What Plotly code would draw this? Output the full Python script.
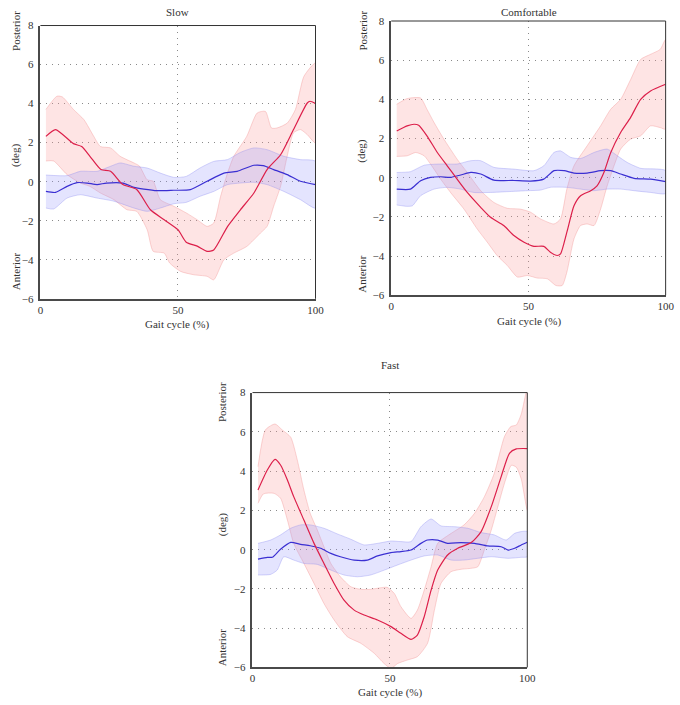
import plotly.graph_objects as go

# ---------------- DATA ----------------
panel_titles = ["Slow", "Comfortable", "Fast"]
x_ticks = [0, 50, 100]
y_ticks = [-6, -4, -2, 0, 2, 4, 6, 8]

# Slow
slow_red_mean_x = [2, 5.5, 12, 15, 18, 22, 25.5, 30, 35, 40, 45, 50, 53, 57, 60.6, 63, 68, 72.7, 77.6, 82.4, 87.3, 92, 97, 98, 100]
slow_red_mean_y = [2.32, 2.67, 1.95, 1.8, 1.3, 0.62, 0.53, -0.15, -0.4, -1.44, -1.95, -2.46, -3.1, -3.3, -3.57, -3.5, -2.3, -1.44, -0.58, 0.62, 1.38, 2.67, 4.03, 4.12, 4.0]
slow_red_up_x = [2, 6, 8, 12, 15.8, 19.4, 21.8, 25.5, 29, 34, 36, 38.8, 41, 43.6, 48.5, 53, 57, 60.6, 63, 65.5, 68, 70.3, 75, 78.8, 81.8, 84, 86, 89.7, 92.7, 95.8, 100]
slow_red_up_y = [3.7, 4.38, 4.34, 3.7, 3.18, 2.32, 1.8, 1.73, 1.3, 0.96, 0.8, 0.1, 0.02, -0.92, -1.26, -1.6, -1.95, -2.29, -2.12, -0.75, 0.44, 1.3, 2.32, 3.52, 3.6, 2.75, 2.75, 3.0, 3.7, 5.4, 6.08]
slow_red_lo_x = [2, 4.8, 9.7, 14.5, 18, 21.8, 26.7, 31.5, 35, 38.8, 41, 45, 47, 51, 55.8, 60.6, 63, 66.7, 70.3, 75, 80, 82.4, 84.8, 87.3, 89.7, 92, 94.5, 97, 100]
slow_red_lo_y = [1.06, 1.06, 0.36, -0.07, -0.24, -0.58, -0.92, -1.44, -1.52, -2.46, -3.57, -3.66, -4.17, -4.6, -4.77, -4.85, -5.03, -4.0, -3.66, -3.32, -2.63, -2.29, -1.26, -0.24, 1.3, 2.5, 2.67, 2.41, 1.98]
slow_blue_mean_x = [2, 5.5, 9.7, 13.3, 17, 20.6, 24, 30, 34, 37.6, 42.4, 48.5, 54.5, 60.6, 66.7, 71.5, 77.6, 81, 84.8, 89.7, 94.5, 100]
slow_blue_mean_y = [-0.5, -0.55, -0.24, -0.05, -0.07, -0.15, -0.07, -0.07, -0.29, -0.38, -0.46, -0.44, -0.41, 0.02, 0.44, 0.53, 0.84, 0.82, 0.62, 0.36, 0.02, -0.15]
slow_blue_up_x = [2, 9.7, 14.5, 20.6, 25.5, 29, 34, 38.8, 43.6, 48.5, 53, 58, 63, 68, 72.7, 77.6, 82.4, 88.5, 94.5, 100]
slow_blue_up_y = [0.34, 0.31, 0.53, 0.53, 0.79, 0.96, 0.79, 0.7, 0.44, 0.22, 0.27, 0.7, 1.04, 1.13, 1.5, 1.73, 1.64, 1.3, 1.13, 1.04]
slow_blue_lo_x = [2, 4.8, 9.7, 14.5, 20.6, 26.7, 34, 38.8, 43.6, 48.5, 53, 58, 63, 68, 72.7, 77.6, 82.4, 88.5, 94.5, 100]
slow_blue_lo_y = [-1.35, -1.4, -0.84, -0.67, -0.84, -1.0, -1.35, -1.52, -1.35, -1.13, -1.06, -0.75, -0.5, -0.15, -0.07, -0.03, -0.15, -0.5, -0.92, -1.35]

# Comfortable
comf_red_mean_x = [2, 5.8, 8.3, 10, 13, 16.8, 20.4, 24, 27.7, 32.6, 36.2, 41, 44.7, 48.4, 52, 55.6, 58, 60.5, 61.7, 64, 66.6, 69, 72.7, 75, 77.5, 80, 83.6, 87.2, 90.9, 94.5, 100]
comf_red_mean_y = [2.39, 2.65, 2.73, 2.68, 2.14, 1.29, 0.61, -0.07, -0.75, -1.51, -2.02, -2.44, -2.95, -3.29, -3.5, -3.5, -3.8, -3.97, -3.89, -2.78, -1.43, -0.92, -0.66, -0.41, 0.27, 1.29, 2.31, 3.07, 4.0, 4.43, 4.77]
comf_red_up_x = [2, 5.8, 10.7, 13, 15.6, 19.2, 24, 27.7, 32.6, 37.4, 42.3, 47, 50.8, 54.4, 59.3, 61.7, 64, 66.6, 71.4, 76.3, 80, 83.6, 87.2, 90.9, 94.5, 98, 100]
comf_red_up_y = [3.75, 4.04, 4.07, 3.5, 2.82, 1.97, 0.95, 0.27, -0.66, -1.26, -1.56, -1.6, -1.76, -2.1, -2.36, -2.1, -0.58, 0.61, 1.63, 2.65, 3.5, 4.0, 5.0, 6.04, 6.3, 6.55, 7.06]
comf_red_lo_x = [2, 5.8, 8.9, 12, 14.3, 18, 21.6, 26.5, 31.3, 35, 38.6, 42.3, 46, 49.6, 53.2, 56.9, 60, 62.3, 64, 66.6, 69, 71.4, 73.9, 76.3, 78.7, 81.2, 83.6, 87.2, 90.9, 94.5, 98, 100]
comf_red_lo_y = [1.09, 1.12, 1.29, 1.12, 0.7, -0.07, -0.75, -1.6, -2.61, -3.29, -3.97, -4.48, -5.07, -4.99, -5.12, -5.16, -5.5, -5.5, -4.82, -3.12, -2.44, -2.36, -2.44, -1.6, -0.41, 0.61, 1.46, 1.97, 2.14, 2.65, 2.56, 2.48]
comf_blue_mean_x = [2, 7, 10.7, 14.3, 18, 21.6, 25.3, 29, 32.6, 37.4, 44.7, 50.8, 55.6, 59.3, 63, 66.6, 71.4, 76.3, 80, 83.6, 88.5, 94.5, 100]
comf_blue_mean_y = [-0.58, -0.58, -0.15, 0.02, 0.05, 0.02, 0.14, 0.27, 0.19, -0.12, -0.14, -0.17, -0.07, 0.36, 0.36, 0.24, 0.24, 0.36, 0.36, 0.19, -0.03, -0.07, -0.2]
comf_blue_up_x = [2, 7, 12, 18, 24, 29, 32.6, 37.4, 44.7, 52, 55.6, 59.3, 61.7, 65.4, 69, 73.9, 78.7, 82.4, 86, 90.9, 100]
comf_blue_up_y = [0.27, 0.31, 0.64, 0.7, 0.7, 0.87, 0.87, 0.53, 0.44, 0.36, 0.61, 1.29, 1.37, 1.04, 0.98, 1.29, 1.46, 1.12, 0.78, 0.48, 0.36]
comf_blue_lo_x = [2, 5.8, 7.7, 10.7, 15.6, 20.4, 25.3, 30, 36.2, 42.3, 49.6, 54.4, 58, 64, 69, 73.9, 78.7, 83.6, 88.5, 94.5, 100]
comf_blue_lo_y = [-1.39, -1.46, -1.43, -0.92, -0.58, -0.49, -0.58, -0.75, -0.75, -0.71, -0.66, -0.63, -0.49, -0.49, -0.58, -0.66, -0.58, -0.58, -0.66, -0.75, -0.8]

# Fast
fast_red_mean_x = [2, 5.4, 8.2, 10.2, 12.7, 15, 18.7, 22.4, 26, 29.7, 33.3, 37, 40.6, 45.5, 50.4, 54, 57.7, 60, 62.5, 65, 67.4, 71, 74.7, 79.6, 83.2, 86.9, 90.5, 93.5, 96, 100]
fast_red_mean_y = [3.04, 4.06, 4.6, 4.31, 3.55, 2.7, 1.51, 0.32, -0.7, -1.72, -2.57, -3.08, -3.33, -3.58, -3.92, -4.26, -4.57, -4.35, -3.41, -2.06, -1.04, -0.27, 0.07, 0.36, 0.92, 2.19, 3.72, 4.91, 5.13, 5.15]
fast_red_up_x = [2, 4.7, 8.2, 10.8, 13.9, 16.3, 18.7, 21, 23.6, 26, 28.5, 32, 35.8, 39.4, 43, 46.7, 49, 51.6, 54, 57.7, 60, 62.5, 65, 67.4, 72.3, 77, 80.8, 84.4, 88, 91.7, 94, 96, 97.8, 100]
fast_red_up_y = [4.23, 6.1, 6.4, 6.1, 5.73, 4.57, 3.04, 1.85, 1.0, 0.15, -0.7, -1.38, -1.89, -2.02, -2.02, -1.94, -1.92, -2.23, -2.9, -3.5, -3.08, -2.06, -0.87, 0.32, 0.83, 1.26, 1.85, 2.7, 3.89, 5.76, 6.27, 6.35, 6.9, 8.2]
fast_red_lo_x = [2, 4, 7.8, 10.2, 12.7, 15, 18.7, 22.4, 26, 29.7, 34.5, 39.4, 44.3, 47.9, 50.4, 52.8, 56.4, 60, 63.7, 66.2, 68.6, 72.3, 75.9, 79.6, 82, 84.4, 86.9, 89.3, 91.7, 94.2, 96, 97.8, 100]
fast_red_lo_y = [2.36, 2.84, 2.87, 2.62, 1.51, 0.32, -0.7, -1.72, -2.74, -3.58, -4.43, -4.77, -5.28, -5.8, -6.05, -5.8, -5.62, -5.45, -4.77, -3.08, -1.72, -1.12, -1.0, -0.95, -0.87, 0.0, 1.0, 2.19, 3.38, 4.3, 4.2, 3.6, 2.0]
fast_blue_mean_x = [2, 5.4, 7.2, 10.2, 13.9, 17.5, 21, 24.8, 28.5, 32, 37, 41.8, 45.5, 50.4, 54, 57.7, 61.3, 63.7, 67.4, 71, 75.9, 80.8, 85.6, 90.5, 93, 95.4, 97.8, 100]
fast_blue_mean_y = [-0.48, -0.39, -0.39, 0.02, 0.37, 0.27, 0.2, 0.07, -0.19, -0.36, -0.53, -0.53, -0.32, -0.15, -0.1, -0.02, 0.32, 0.49, 0.49, 0.32, 0.36, 0.32, 0.19, 0.15, -0.02, 0.07, 0.24, 0.38]
fast_blue_up_x = [2, 6.6, 10.2, 13.9, 17.5, 21, 26, 30.9, 35.8, 40.6, 45.5, 50.4, 54, 57.7, 61.3, 65, 68.6, 73.5, 78.3, 83.2, 88, 92.3, 95.4, 97.8, 100]
fast_blue_up_y = [0.32, 0.49, 0.75, 1.09, 1.26, 1.26, 1.09, 0.8, 0.53, 0.24, 0.32, 0.44, 0.41, 0.41, 1.17, 1.56, 1.21, 1.17, 1.09, 0.87, 0.75, 0.49, 0.83, 0.92, 0.92]
fast_blue_lo_x = [2, 6.6, 9, 11.4, 15, 18.7, 23.6, 28.5, 33.3, 38.2, 43, 48, 52.8, 57.7, 62.5, 67.4, 72.3, 77, 82, 86.9, 93, 97.8, 100]
fast_blue_lo_y = [-1.29, -1.26, -1.04, -0.36, -0.53, -0.7, -0.75, -1.04, -1.29, -1.38, -1.29, -1.04, -0.78, -0.53, -0.32, -0.27, -0.53, -0.53, -0.44, -0.36, -0.44, -0.39, -0.36]

panels = [
    dict(red=(slow_red_mean_x, slow_red_mean_y, slow_red_up_x, slow_red_up_y, slow_red_lo_x, slow_red_lo_y),
         blue=(slow_blue_mean_x, slow_blue_mean_y, slow_blue_up_x, slow_blue_up_y, slow_blue_lo_x, slow_blue_lo_y)),
    dict(red=(comf_red_mean_x, comf_red_mean_y, comf_red_up_x, comf_red_up_y, comf_red_lo_x, comf_red_lo_y),
         blue=(comf_blue_mean_x, comf_blue_mean_y, comf_blue_up_x, comf_blue_up_y, comf_blue_lo_x, comf_blue_lo_y)),
    dict(red=(fast_red_mean_x, fast_red_mean_y, fast_red_up_x, fast_red_up_y, fast_red_lo_x, fast_red_lo_y),
         blue=(fast_blue_mean_x, fast_blue_mean_y, fast_blue_up_x, fast_blue_up_y, fast_blue_lo_x, fast_blue_lo_y)),
]

# ---------------- LAYOUT (target pixels in the photo) ----------------
W, H = 680, 705
# calibration from a previous render: photo_px = S * page_px + offset
S = 0.982
OX, OY = 2.6, 6.5


def px_x(v):
    return ((v - OX) / S) / W


def px_y(v):
    return 1 - ((v - OY) / S) / H


# plot-area boxes: (left, right, top, bottom)
boxes = [(40, 315, 26, 299), (390.7, 665, 21.5, 295.5), (252, 526.7, 392.7, 667.3)]
title_pos = [(177, 12), (528, 12), (389, 365)]
xlab_pos = [(177, 325), (528, 322), (389, 692)]
ylab_x = [15, 361.5, 221.7]
ylab_y = [(31, 155, 271), (31, 151, 274), (402, 524, 647)]

FONT = "Liberation Serif, Times New Roman, serif"
TXT = "#333333"
RED = "#dc1f4a"
BLUE = "#3a2fd2"
RED_FILL = "rgba(250,150,150,0.26)"
RED_EDGE = "rgba(240,140,140,0.45)"
BLUE_FILL = "rgba(150,150,250,0.26)"
BLUE_EDGE = "rgba(140,140,240,0.45)"

fig = go.Figure()
annotations = []
shapes = []
layout_axes = {}

for i, p in enumerate(panels):
    sfx = "" if i == 0 else str(i + 1)
    xa, ya = "x" + sfx, "y" + sfx
    for key, fill, edge in (("red", RED_FILL, RED_EDGE), ("blue", BLUE_FILL, BLUE_EDGE)):
        mx, my, ux, uy, lx, ly = p[key]
        fig.add_trace(go.Scatter(
            x=list(ux) + list(lx)[::-1], y=list(uy) + list(ly)[::-1],
            fill="toself", fillcolor=fill, mode="lines",
            line=dict(color=edge, width=0.8, shape="spline", smoothing=0.6),
            xaxis=xa, yaxis=ya, hoverinfo="skip", showlegend=False))
    for key, lc in (("blue", BLUE), ("red", RED)):
        mx, my = p[key][0], p[key][1]
        fig.add_trace(go.Scatter(
            x=mx, y=my, mode="lines",
            line=dict(color=lc, width=1.2, shape="spline", smoothing=0.6),
            xaxis=xa, yaxis=ya, showlegend=False))

    l, r, t, b = boxes[i]
    axis_common = dict(showline=True, linecolor="#4a4a4a", linewidth=1.6, mirror=False,
                       showgrid=True, gridcolor="#8a8a8a", griddash="1px,5px", gridwidth=1,
                       zeroline=False, ticks="",
                       tickfont=dict(family=FONT, size=11, color=TXT))
    layout_axes["xaxis" + sfx] = dict(axis_common, domain=[px_x(l), px_x(r)], range=[0, 100],
                                      tickvals=x_ticks, anchor=ya)
    layout_axes["yaxis" + sfx] = dict(axis_common, domain=[px_y(b), px_y(t)], range=[-6, 8],
                                      tickvals=y_ticks, anchor=xa, ticklabelstandoff=3)

    # thinner top and right frame edges
    shapes.append(dict(type="line", xref=xa + " domain", yref=ya + " domain",
                       x0=0, x1=1, y0=1, y1=1, line=dict(color="#333333", width=1)))
    shapes.append(dict(type="line", xref=xa + " domain", yref=ya + " domain",
                       x0=1, x1=1, y0=0, y1=1, line=dict(color="#333333", width=1)))

    tx, ty = title_pos[i]
    annotations.append(dict(text=panel_titles[i], x=px_x(tx), y=px_y(ty), xref="paper", yref="paper",
                            showarrow=False, font=dict(family=FONT, size=11, color=TXT),
                            xanchor="center", yanchor="middle"))
    gx, gy = xlab_pos[i]
    annotations.append(dict(text="Gait cycle (%)", x=px_x(gx), y=px_y(gy), xref="paper", yref="paper",
                            showarrow=False, font=dict(family=FONT, size=11, color=TXT),
                            xanchor="center", yanchor="middle"))
    for txt, yy in zip(["Posterior", "(deg)", "Anterior"], ylab_y[i]):
        annotations.append(dict(text=txt, x=px_x(ylab_x[i]), y=px_y(yy), xref="paper", yref="paper",
                                showarrow=False, textangle=-90,
                                font=dict(family=FONT, size=11, color=TXT),
                                xanchor="center", yanchor="middle"))

fig.update_layout(
    width=W, height=H,
    margin=dict(l=0, r=0, t=0, b=0),
    paper_bgcolor="white", plot_bgcolor="white",
    showlegend=False,
    annotations=annotations,
    shapes=shapes,
    **layout_axes,
)

fig.write_html("out.html", config={"displayModeBar": False},
               post_script="document.body.style.margin='0';document.body.style.overflow='hidden';")
